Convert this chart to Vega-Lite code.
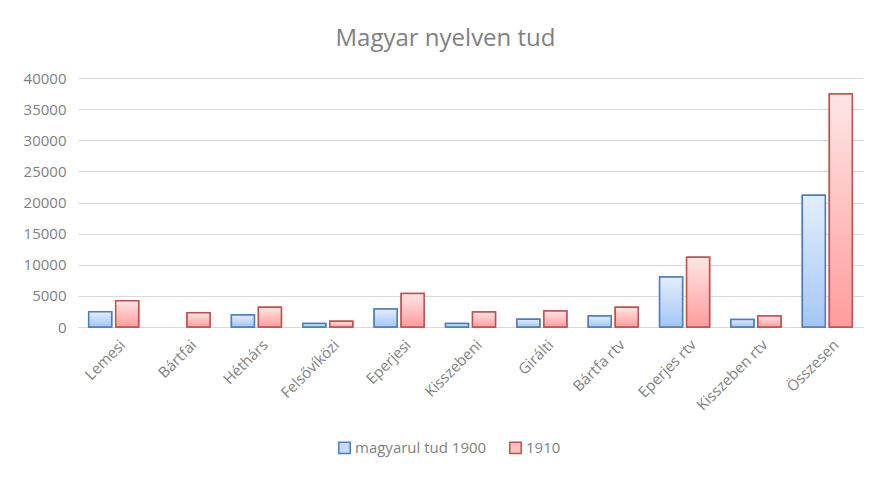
{
  "$schema": "https://vega.github.io/schema/vega-lite/v6.json",
  "autosize": "none",
  "width": 785,
  "height": 249,
  "padding": {"left": 78, "top": 78, "right": 27, "bottom": 156},
  "background": "white",
  "title": {
    "text": "Magyar nyelven tud",
    "fontSize": 24,
    "font": "Open Sans",
    "fontWeight": "normal",
    "color": "#7f7f7f",
    "anchor": "middle",
    "offset": 20,
    "dx": -25
  },
  "config": {
    "view": {"stroke": null},
    "font": "Open Sans"
  },
  "data": {
    "values": [
      {"telepules": "Lemesi", "series": "magyarul tud 1900", "ertek": 2460},
      {"telepules": "Lemesi", "series": "1910", "ertek": 4220},
      {"telepules": "Bártfai", "series": "1910", "ertek": 2300},
      {"telepules": "Héthárs", "series": "magyarul tud 1900", "ertek": 1930},
      {"telepules": "Héthárs", "series": "1910", "ertek": 3160},
      {"telepules": "Felsővíközi", "series": "magyarul tud 1900", "ertek": 550},
      {"telepules": "Felsővíközi", "series": "1910", "ertek": 920},
      {"telepules": "Eperjesi", "series": "magyarul tud 1900", "ertek": 2890},
      {"telepules": "Eperjesi", "series": "1910", "ertek": 5370},
      {"telepules": "Kisszebeni", "series": "magyarul tud 1900", "ertek": 550},
      {"telepules": "Kisszebeni", "series": "1910", "ertek": 2410},
      {"telepules": "Girálti", "series": "magyarul tud 1900", "ertek": 1240},
      {"telepules": "Girálti", "series": "1910", "ertek": 2570},
      {"telepules": "Bártfa rtv", "series": "magyarul tud 1900", "ertek": 1770},
      {"telepules": "Bártfa rtv", "series": "1910", "ertek": 3160},
      {"telepules": "Eperjes rtv", "series": "magyarul tud 1900", "ertek": 8030},
      {"telepules": "Eperjes rtv", "series": "1910", "ertek": 11200},
      {"telepules": "Kisszeben rtv", "series": "magyarul tud 1900", "ertek": 1190},
      {"telepules": "Kisszeben rtv", "series": "1910", "ertek": 1770},
      {"telepules": "Összesen", "series": "magyarul tud 1900", "ertek": 21160},
      {"telepules": "Összesen", "series": "1910", "ertek": 37430}
    ]
  },
  "encoding": {
    "x": {
      "field": "telepules",
      "type": "nominal",
      "sort": null,
      "scale": {"paddingInner": 0.3, "paddingOuter": 0.15},
      "axis": {
        "title": null,
        "labelAngle": -45,
        "labelAlign": "right",
        "labelBaseline": "top",
        "labelFontSize": 15,
        "labelColor": "#7f7f7f",
        "labelPadding": 10,
        "labelOffset": 4,
        "ticks": false,
        "domainColor": "#d9d9d9",
        "domainWidth": 1
      }
    },
    "xOffset": {
      "field": "series",
      "type": "nominal",
      "scale": {"domain": ["magyarul tud 1900", "1910"], "paddingInner": 0.15}
    },
    "y": {
      "field": "ertek",
      "type": "quantitative",
      "scale": {"domain": [0, 40000], "nice": false},
      "axis": {
        "title": null,
        "values": [0, 5000, 10000, 15000, 20000, 25000, 30000, 35000, 40000],
        "format": "d",
        "labelFontSize": 15,
        "labelColor": "#7f7f7f",
        "labelPadding": 12,
        "ticks": false,
        "domain": false,
        "gridColor": "#d9d9d9",
        "gridWidth": 1
      }
    }
  },
  "layer": [
    {
      "mark": {"type": "bar", "strokeWidth": 1.5},
      "encoding": {
        "fill": {
          "field": "series",
          "type": "nominal",
          "scale": {"domain": ["magyarul tud 1900", "1910"], "range": ["#c6dbf9", "#ffc0c0"]},
          "legend": {
            "title": null,
            "orient": "none",
            "legendX": 259,
            "legendY": 362,
            "direction": "horizontal",
            "symbolType": "square",
            "symbolSize": 130,
            "symbolStrokeWidth": 1.5,
            "labelFontSize": 15,
            "labelColor": "#7f7f7f",
            "columnPadding": 19,
            "labelOffset": 3
          }
        },
        "stroke": {
          "field": "series",
          "type": "nominal",
          "scale": {"domain": ["magyarul tud 1900", "1910"], "range": ["#4a7ebb", "#c0504d"]},
          "legend": {
            "title": null,
            "orient": "none",
            "legendX": 259,
            "legendY": 362,
            "direction": "horizontal",
            "symbolType": "square",
            "symbolSize": 130,
            "symbolStrokeWidth": 1.5,
            "labelFontSize": 15,
            "labelColor": "#7f7f7f",
            "columnPadding": 19,
            "labelOffset": 3
          }
        }
      }
    },
    {
      "mark": {"type": "bar", "strokeWidth": 1.5},
      "encoding": {
        "fill": {
          "condition": {
            "test": "datum.series === 'magyarul tud 1900'",
            "value": {
              "gradient": "linear", "x1": 0, "y1": 0, "x2": 0, "y2": 1,
              "stops": [{"offset": 0, "color": "#e3eefc"}, {"offset": 1, "color": "#a4c6f6"}]
            }
          },
          "value": {
            "gradient": "linear", "x1": 0, "y1": 0, "x2": 0, "y2": 1,
            "stops": [{"offset": 0, "color": "#ffe6e6"}, {"offset": 1, "color": "#ff9c9c"}]
          }
        },
        "stroke": {
          "condition": {"test": "datum.series === 'magyarul tud 1900'", "value": "#4a7ebb"},
          "value": "#c0504d"
        }
      }
    }
  ]
}
